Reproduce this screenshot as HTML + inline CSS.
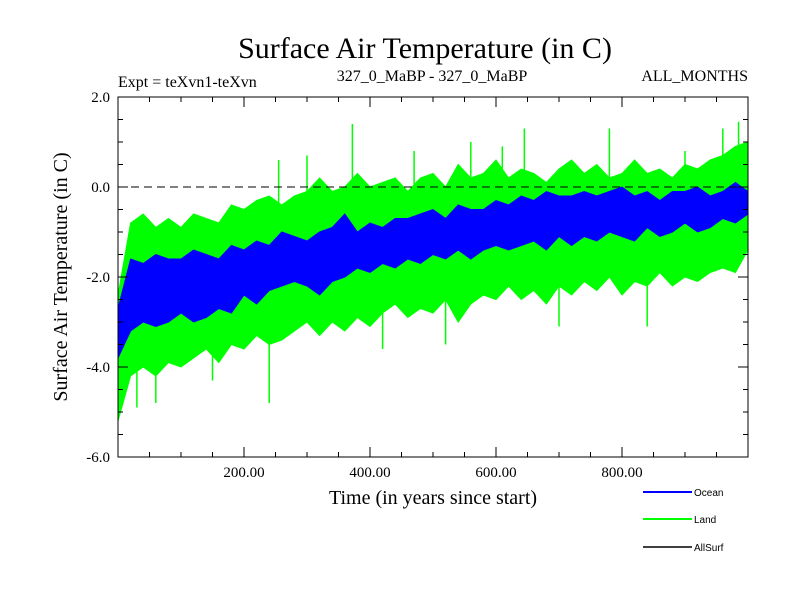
<!DOCTYPE html>
<html><head><meta charset="utf-8"><style>
body{margin:0;background:#fff;}
svg text{font-family:"Liberation Serif",serif;}
</style></head><body>
<svg id="c" width="800" height="600" xmlns="http://www.w3.org/2000/svg">
<text x="425" y="58" font-size="30" text-anchor="middle">Surface Air Temperature (in C)</text>
<text x="118" y="87" font-size="16">Expt = teXvn1-teXvn</text>
<text x="432" y="81" font-size="16" text-anchor="middle">327_0_MaBP - 327_0_MaBP</text>
<text x="748" y="81" font-size="16" text-anchor="end">ALL_MONTHS</text>
<text transform="translate(67,277) rotate(-90)" font-size="20" text-anchor="middle">Surface Air Temperature (in C)</text>
<text x="433" y="504" font-size="20" text-anchor="middle">Time (in years since start)</text>
<g id="plot"></g>
<g>
<line x1="643" y1="492" x2="692" y2="492" stroke="#0000ff" stroke-width="2"/>
<text x="694" y="496" font-size="10" style="font-family:'Liberation Sans',sans-serif">Ocean</text>
<line x1="643" y1="519" x2="692" y2="519" stroke="#00ff00" stroke-width="2"/>
<text x="694" y="523" font-size="10" style="font-family:'Liberation Sans',sans-serif">Land</text>
<line x1="643" y1="547" x2="692" y2="547" stroke="#000" stroke-width="1.5"/>
<text x="694" y="551" font-size="10" style="font-family:'Liberation Sans',sans-serif">AllSurf</text>
</g>
</svg>
<script>
const years=[0,20,40,60,80,100,120,140,160,180,200,220,240,260,280,300,320,340,360,380,400,420,440,460,480,500,520,540,560,580,600,620,640,660,680,700,720,740,760,780,800,820,840,860,880,900,920,940,960,980,1000];
const oceanHi=[-2.7,-1.6,-1.7,-1.5,-1.6,-1.6,-1.4,-1.5,-1.6,-1.3,-1.4,-1.2,-1.3,-1.0,-1.1,-1.2,-1.0,-0.9,-0.6,-1.0,-0.8,-0.9,-0.7,-0.7,-0.6,-0.5,-0.7,-0.4,-0.5,-0.5,-0.3,-0.4,-0.2,-0.3,-0.1,-0.2,-0.2,-0.1,-0.2,-0.1,0.0,-0.2,-0.1,-0.3,-0.1,-0.1,0.0,-0.2,-0.1,0.1,-0.1];
const oceanLo=[-3.8,-3.2,-3.0,-3.1,-3.0,-2.8,-3.0,-2.9,-2.7,-2.8,-2.4,-2.6,-2.3,-2.2,-2.1,-2.2,-2.4,-2.1,-2.0,-1.8,-1.9,-1.7,-1.8,-1.6,-1.7,-1.5,-1.6,-1.4,-1.6,-1.4,-1.3,-1.4,-1.3,-1.2,-1.4,-1.1,-1.3,-1.1,-1.2,-1.0,-1.1,-1.2,-0.9,-1.1,-1.0,-0.8,-1.0,-0.9,-0.7,-0.8,-0.6];
const landHi=[-2.4,-0.8,-0.6,-0.9,-0.7,-0.9,-0.6,-0.7,-0.8,-0.4,-0.5,-0.3,-0.2,-0.4,-0.2,-0.1,0.2,-0.1,0.0,0.3,0.0,0.1,0.2,-0.1,0.2,0.3,0.0,0.5,0.2,0.3,0.6,0.2,0.4,0.3,0.1,0.4,0.6,0.3,0.5,0.2,0.3,0.6,0.3,0.4,0.2,0.5,0.4,0.6,0.7,0.9,1.0];
const landLo=[-5.2,-4.2,-4.0,-4.2,-3.9,-4.0,-3.8,-3.6,-3.9,-3.5,-3.6,-3.3,-3.5,-3.4,-3.2,-3.0,-3.3,-3.0,-3.2,-2.9,-3.1,-2.8,-2.6,-2.9,-2.7,-2.8,-2.5,-3.0,-2.6,-2.4,-2.5,-2.2,-2.5,-2.3,-2.6,-2.2,-2.4,-2.1,-2.3,-2.0,-2.4,-2.1,-2.2,-1.9,-2.2,-2.0,-2.1,-1.9,-1.8,-1.9,-1.4];
const spikeYears=[30,60,150,240,255,300,372,420,470,520,560,610,645,700,780,840,900,960,985];
const spikeVals=[-4.9,-4.8,-4.3,-4.8,0.6,0.7,1.4,-3.6,0.8,-3.5,1.0,0.9,1.3,-3.1,1.3,-3.1,0.8,1.3,1.45];
const yTicks=[2.0,0.0,-2.0,-4.0,-6.0];
const yTickLabels=["2.0","0.0","-2.0","-4.0","-6.0"];
const xTicks=[200,400,600,800];
const xTickLabels=["200.00","400.00","600.00","800.00"];
const X0=118,X1=748,Y0=97,Y1=457,XMIN=0,XMAX=1000,YMIN=-6,YMAX=2;
function xs(t){return X0+(t-XMIN)/(XMAX-XMIN)*(X1-X0);}
function ys(v){return Y1-(v-YMIN)/(YMAX-YMIN)*(Y1-Y0);}
const NS='http://www.w3.org/2000/svg';
const g=document.getElementById('plot');
function mk(tag,attrs){const e=document.createElementNS(NS,tag);for(const k in attrs)e.setAttribute(k,attrs[k]);g.appendChild(e);return e;}
function interp(arr,t){const i=Math.min(Math.floor(t/20),years.length-2);const f=(t-years[i])/20;return arr[i]*(1-f)+arr[i+1]*f;}
function band(hi,lo,color){
  let pts=[];
  for(let i=0;i<years.length;i++)pts.push(xs(years[i]).toFixed(1)+','+ys(hi[i]).toFixed(1));
  for(let i=years.length-1;i>=0;i--)pts.push(xs(years[i]).toFixed(1)+','+ys(lo[i]).toFixed(1));
  return mk('polygon',{points:pts.join(' '),fill:color,stroke:color,'stroke-width':1});
}
const lb=band(landHi,landLo,'#00ff00');


spikeYears.forEach((t,i)=>{
  const v=spikeVals[i];const base=v>0?interp(landHi,t):interp(landLo,t);
  const s=mk('line',{x1:xs(t),x2:xs(t),y1:ys(base),y2:ys(v),stroke:'#00ff00','stroke-width':1.5});
  
  
});
const ob=band(oceanHi,oceanLo,'#0000ff');


const zl=mk('line',{x1:X0,x2:X1,y1:ys(0),y2:ys(0),stroke:'#000','stroke-dasharray':'8,5','stroke-width':1});


const fr=mk('rect',{x:X0,y:Y0,width:X1-X0,height:Y1-Y0,fill:'none',stroke:'#000','stroke-width':1});


for(let v=YMIN;v<=YMAX+1e-9;v+=0.5){const major=Math.abs(v-Math.round(v/2)*2)<1e-9;const L=major?10:5;
  const a=mk('line',{x1:X0,x2:X0+L,y1:ys(v),y2:ys(v),stroke:'#000'});
  const b=mk('line',{x1:X1-L,x2:X1,y1:ys(v),y2:ys(v),stroke:'#000'});}
for(let t=50;t<XMAX;t+=50){const major=t%200===0;const L=major?10:5;
  const a=mk('line',{x1:xs(t),x2:xs(t),y1:Y1,y2:Y1-L,stroke:'#000'});
  const b=mk('line',{x1:xs(t),x2:xs(t),y1:Y0,y2:Y0+L,stroke:'#000'});}
yTicks.forEach((v,i)=>{const t=mk('text',{x:X0-8,y:ys(v)+5,'font-size':15,'text-anchor':'end'});t.textContent=yTickLabels[i];
  });
xTicks.forEach((v,i)=>{const t=mk('text',{x:xs(v),y:Y1+20,'font-size':15,'text-anchor':'middle'});t.textContent=xTickLabels[i];
  });
</script>
</body></html>
